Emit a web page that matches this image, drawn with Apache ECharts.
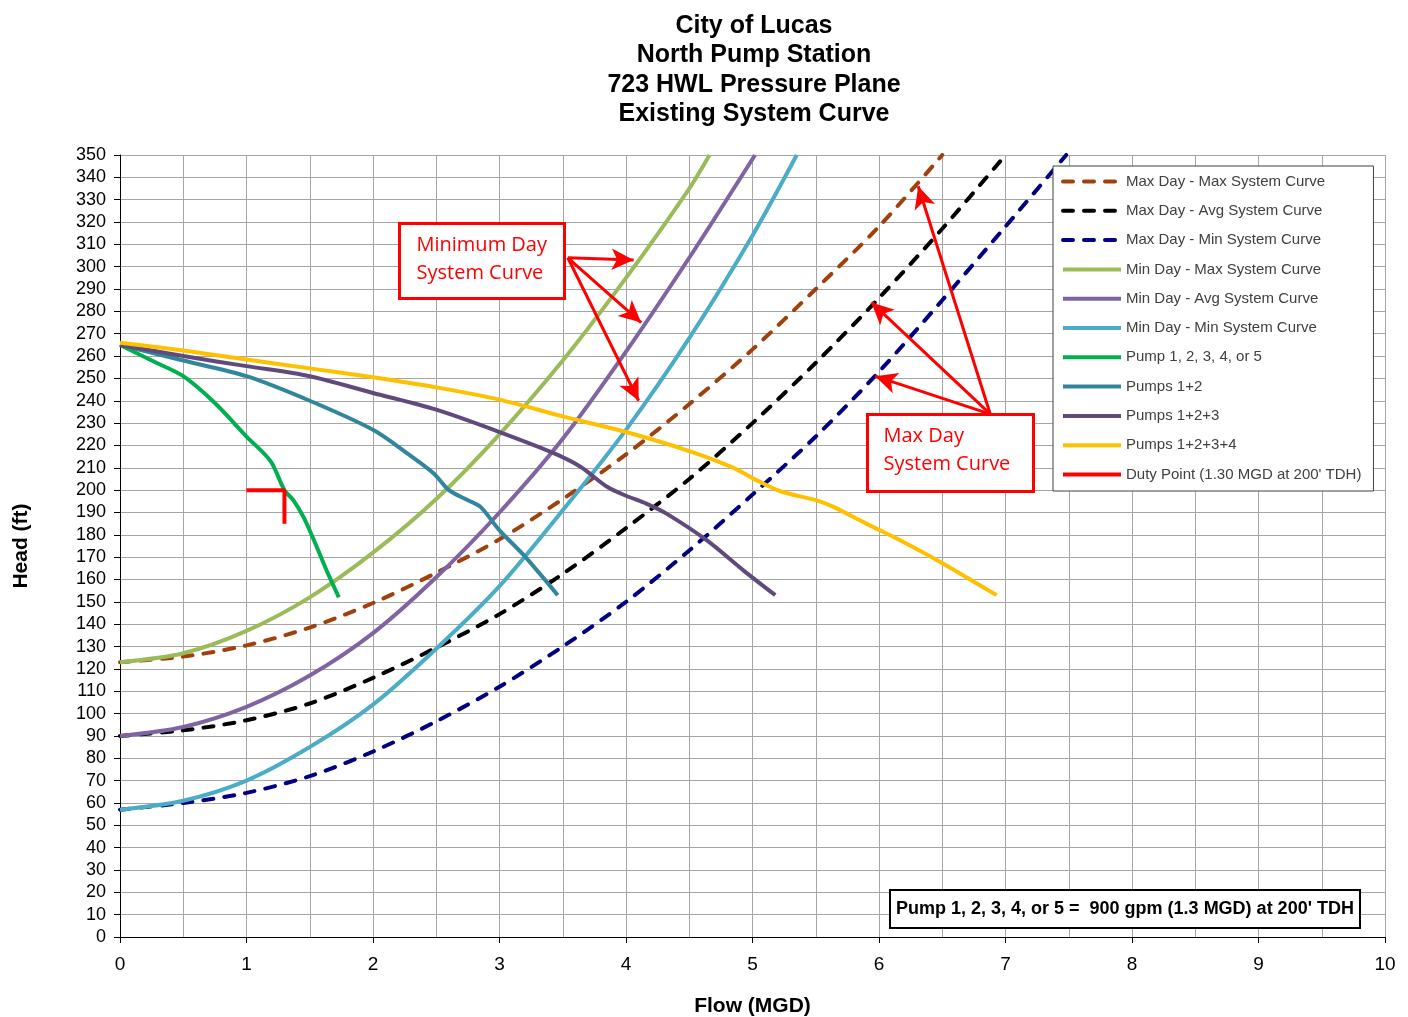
<!DOCTYPE html>
<html>
<head>
<meta charset="utf-8">
<script src="https://cdn.jsdelivr.net/npm/echarts@6/dist/echarts.min.js"></script>
<style>
  html, body { margin: 0; padding: 0; background: #fff; }
  #chart { width: 1408px; height: 1017px; }
</style>
</head>
<body>
<div id="chart"></div>
<script>
// flow (MGD) vs head (ft)
var maxDayMax = [[0,123],[0.5,125.5],[1,130.5],[1.5,138.5],[2,149.5],[2.5,163],[3,178],[3.5,196],[4,216],[4.5,238.5],[5,263],[5.5,290],[6,318],[6.5,350]];
var maxDayAvg = [[0,90],[0.5,92.5],[1,97],[1.5,104.5],[2,116],[2.5,129.5],[3,144.5],[3.5,162.5],[4,183],[4.5,205],[5,230],[5.5,257],[6,286],[6.5,317],[7,350]];
var maxDayMin = [[0,57],[0.5,60],[1,64.5],[1.5,72],[2,83],[2.5,96.5],[3,112],[3.5,130],[4,150],[4.5,173],[5,198],[5.5,224],[6,253],[6.5,285],[7,318],[7.48,350]];
var minDayMax = [[0,123],[0.5,127],[1,137],[1.5,152],[2,172],[2.5,196],[3,225],[3.5,258],[4,295],[4.5,335],[4.66,350]];
var minDayAvg = [[0,90],[0.5,94],[1,103],[1.5,117],[2,136],[2.5,161],[3,190],[3.5,223],[4,262],[4.5,304],[5.02,350]];
var minDayMin = [[0,57],[0.5,61],[1,70],[1.5,85],[2,104],[2.5,129],[3,157],[3.5,191],[4,227],[4.5,268],[5,314],[5.35,350]];
var pump1 = [[0,265],[0.25,258],[0.5,251],[0.75,239],[1,224],[1.19,213],[1.3,200],[1.37,195.5],[1.45,188],[1.53,178],[1.63,164.5],[1.73,152]];
var pumps12 = [[0,265],[0.5,258],[1,251],[1.5,240],[2,227],[2.27,216.5],[2.48,207.5],[2.6,200],[2.75,195.5],[2.85,192.5],[3,182],[3.19,171],[3.46,153]];
var pumps123 = [[0,265],[0.5,260],[1,255.5],[1.5,251],[2,243.5],[2.5,236],[3,226],[3.41,217],[3.64,210.5],[3.85,201.5],[4,197.5],[4.16,194],[4.32,189.5],[4.64,177.5],[4.93,164],[5.18,153]];
var pumps1234 = [[0,266],[0.5,262.5],[1,258.5],[1.5,254.5],[2,250.5],[2.5,246],[3,240.5],[3.5,233],[4,226],[4.5,217.5],[4.85,210],[5.03,204.5],[5.22,199.5],[5.5,195.5],[5.64,192.5],[5.9,185],[6.17,177.5],[6.48,168],[6.93,153]];
var dutyPoint = [[1,200],[1.3,200],[1.3,185]];

// annotation arrows: [from, to] in data units
var minDayArrows = [[[3.54,304],[4.06,303]],[[3.54,304],[4.12,275]],[[3.54,304],[4.10,240]]];
var maxDayArrows = [[[6.88,234],[6.31,336]],[[6.88,234],[5.94,284]],[[6.88,234],[5.97,251]]];

var titleLines = ['City of Lucas', 'North Pump Station', '723 HWL Pressure Plane', 'Existing System Curve'];

var chart = echarts.init(document.getElementById('chart'));

function curve(name, data, color, dashed) {
    return {
        name: name,
        type: 'line',
        data: data,
        smooth: 0.3,
        symbol: 'none',
        lineStyle: {
            color: color,
            width: 4,
            type: dashed ? [10, 11] : 'solid',
            cap: dashed ? 'round' : 'butt'
        },
        itemStyle: { color: color }
    };
}

function arrows(list) {
    return list.map(function (a) {
        return [{ coord: a[0] }, { coord: a[1] }];
    });
}

// boxed note on top of the plot
function note(left, top, w, h, text, color, font, pad, lw) {
    return {
        type: 'group', left: left, top: top,
        children: [
            { type: 'rect', z: 100, shape: { x: 0, y: 0, width: w, height: h },
              style: { fill: '#fff', stroke: color, lineWidth: lw } },
            { type: 'text', z: 101, left: pad[0], top: pad[1],
              style: { text: text, fill: color, font: font, lineHeight: 28 } }
        ]
    };
}

var series = [
    curve('Max Day - Max System Curve', maxDayMax, '#A0410D', true),
    curve('Max Day - Avg System Curve', maxDayAvg, '#000000', true),
    curve('Max Day - Min System Curve', maxDayMin, '#000080', true),
    curve('Min Day - Max System Curve', minDayMax, '#9BBB59', false),
    curve('Min Day - Avg System Curve', minDayAvg, '#8064A2', false),
    curve('Min Day - Min System Curve', minDayMin, '#4BACC6', false),
    curve('Pump 1, 2, 3, 4, or 5', pump1, '#00B050', false),
    curve('Pumps 1+2', pumps12, '#31859C', false),
    curve('Pumps 1+2+3', pumps123, '#604A7B', false),
    curve('Pumps 1+2+3+4', pumps1234, '#FFC000', false)
];
var duty = curve("Duty Point (1.30 MGD at 200' TDH)", dutyPoint, '#FF0000', false);
duty.smooth = false;
duty.markLine = {
    silent: true,
    symbol: ['none', 'arrow'],
    symbolSize: [16, 22],
    label: { show: false },
    lineStyle: { color: '#FF0000', width: 3, type: 'solid' },
    data: arrows(minDayArrows).concat(arrows(maxDayArrows))
};
series.push(duty);

var gridColor = '#A6A6A6';

chart.setOption({
    backgroundColor: '#fff',
    animation: false,
    title: {
        text: titleLines.join('\n'),
        left: 749,
        textAlign: 'center',
        top: 6,
        textStyle: {
            fontFamily: 'Liberation Sans',
            fontSize: 25,
            fontWeight: 'bold',
            color: '#000',
            lineHeight: 29.5
        }
    },
    grid: { left: 120, right: 23, top: 155, bottom: 80, outerBoundsMode: 'none' },
    xAxis: {
        type: 'value',
        min: 0, max: 10, interval: 1,
        name: 'Flow (MGD)',
        nameLocation: 'middle',
        nameGap: 59,
        nameTextStyle: { fontFamily: 'Liberation Sans', fontSize: 21, fontWeight: 'bold', color: '#000' },
        axisLine: { lineStyle: { color: '#000', width: 1 } },
        axisTick: { show: true, length: 6, lineStyle: { color: '#000' } },
        axisLabel: { fontFamily: 'Liberation Sans', fontSize: 19, color: '#000', margin: 18 },
        splitLine: { show: true, lineStyle: { color: gridColor, width: 1 } },
        minorTick: { show: false, splitNumber: 2 },
        minorSplitLine: { show: true, lineStyle: { color: gridColor, width: 1 } }
    },
    yAxis: {
        type: 'value',
        min: 0, max: 350, interval: 10,
        name: 'Head (ft)',
        nameLocation: 'middle',
        nameGap: 88,
        nameRotate: 90,
        nameTextStyle: { fontFamily: 'Liberation Sans', fontSize: 21, fontWeight: 'bold', color: '#000' },
        axisLine: { show: true, lineStyle: { color: '#000', width: 1 } },
        axisTick: { show: true, length: 6, lineStyle: { color: '#000' } },
        axisLabel: { fontFamily: 'Liberation Sans', fontSize: 18, color: '#000', margin: 14 },
        splitLine: { show: true, lineStyle: { color: gridColor, width: 1 } }
    },
    legend: {
        orient: 'vertical',
        left: 1053,
        top: 166,
        padding: [8, 12, 9, 8],
        itemWidth: 58,
        itemHeight: 14,
        itemGap: 14.3,
        itemStyle: { opacity: 0 },
        lineStyle: { width: 4 },
        backgroundColor: '#fff',
        borderColor: '#404040',
        borderWidth: 1,
        borderRadius: 0,
        textStyle: { fontFamily: 'Liberation Sans', fontSize: 15, color: '#404040' },
        data: series.map(function (s) { return s.name; })
    },
    graphic: [
        note(398, 222, 165, 75, 'Minimum Day\nSystem Curve', '#FF0000', '20px "Open Sans"', [17, 8], 3),
        note(866, 413, 166, 77, 'Max Day\nSystem Curve', '#FF0000', '20px "Open Sans"', [16, 8], 3),
        note(889, 889, 470, 38, "Pump 1, 2, 3, 4, or 5 =  900 gpm (1.3 MGD) at 200' TDH", '#000', 'bold 18px "Liberation Sans"', [6, 5], 2)
    ],
    series: series
});
</script>
</body>
</html>
